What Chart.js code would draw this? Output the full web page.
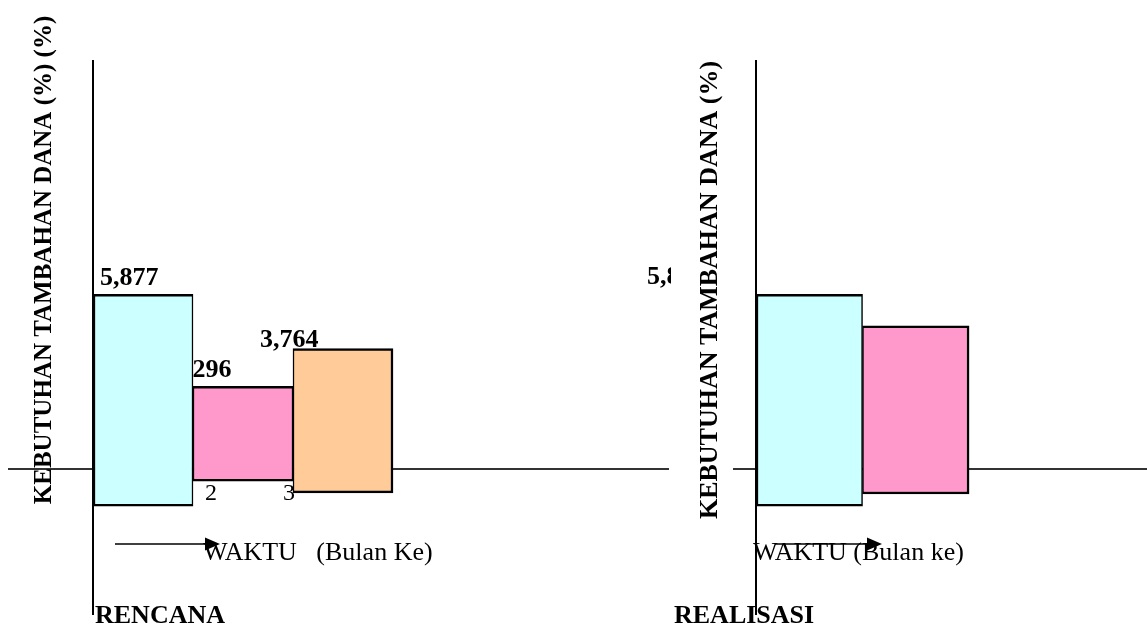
<!DOCTYPE html>
<html>
<head>
<meta charset="utf-8">
<title>Kebutuhan Tambahan Dana</title>
<script src="https://cdn.jsdelivr.net/npm/chart.js@4.4.1/dist/chart.umd.min.js"></script>
<style>
  html, body { margin: 0; padding: 0; background: #ffffff; }
  #wrap { position: relative; width: 1147px; height: 625px; overflow: hidden; }
  #wrap canvas { position: absolute; left: 0; top: 0; }
</style>
</head>
<body>
<div id="wrap">
  <canvas id="rencana" width="1147" height="625"></canvas>
  <canvas id="realisasi" width="1147" height="625"></canvas>
</div>
<script>
// Bulan ke- (months)
const rencanaMonths = [1, 2, 3];
const realisasiMonths = [1, 2];

// Floating bars: upper and lower ends of each month's box
const rencanaTop = [5877, 2296, 3764];
const rencanaBottom = [-2360, -1390, -1850];
const realisasiTop = [5877, 4650];
const realisasiBottom = [-2360, -1890];

// Value labels written above the boxes
const rencanaValueLabels = ['5,877', '2,296', '3,764'];
const realisasiValueLabels = ['5,877'];

// Month numbers written under the base line
const rencanaTickLabels = ['1', '2', '3'];

const monthColors = ['#CCFFFF', '#FF99CC', '#FFCC99'];
const baseLevel = -920;

const SERIF = '"Liberation Serif", "Times New Roman", serif';

// Draws the base line, axis, arrow, captions and titles around the boxes
const panelDecor = {
  id: 'panelDecor',
  beforeDatasetsDraw(chart, args, o) {
    const { ctx, chartArea: a, scales: { y } } = chart;
    const bars = chart.getDatasetMeta(0).data;
    const yb = Math.round(y.getPixelForValue(o.baseLevel));
    ctx.save();
    // base line
    ctx.strokeStyle = '#333333';
    ctx.lineWidth = 2;
    ctx.beginPath();
    ctx.moveTo(a.left - 85, yb);
    ctx.lineTo(a.right, yb);
    ctx.stroke();

    // value labels (sit behind the boxes)
    ctx.fillStyle = '#000000';
    ctx.textAlign = 'left';
    ctx.textBaseline = 'alphabetic';
    ctx.font = 'bold 26px ' + SERIF;
    o.valueLabels.forEach((txt, i) => {
      const b = bars[i];
      const left = b.x - b.width / 2;
      const off = o.valueOffsets[i];
      ctx.fillText(txt, left + off[0], b.y + off[1]);
    });

    // month numbers
    ctx.font = '24px ' + SERIF;
    (o.tickLabels || []).forEach((txt, i) => {
      const b = bars[i];
      const left = b.x - b.width / 2;
      ctx.fillText(txt, left + o.tickOffsets[i], yb + 31);
    });
    ctx.restore();
  },
  afterDatasetsDraw(chart, args, o) {
    const { ctx, chartArea: a } = chart;
    ctx.save();
    // vertical axis
    ctx.strokeStyle = '#000000';
    ctx.lineWidth = 2;
    ctx.beginPath();
    ctx.moveTo(a.left, a.top);
    ctx.lineTo(a.left, a.bottom);
    ctx.stroke();

    // time arrow
    const ay = 544;
    const x1 = a.left + o.arrow[0];
    const x2 = a.left + o.arrow[1];
    ctx.lineWidth = 1.6;
    ctx.beginPath();
    ctx.moveTo(x1, ay);
    ctx.lineTo(x2 - 12, ay);
    ctx.stroke();
    ctx.fillStyle = '#000000';
    ctx.beginPath();
    ctx.moveTo(x2, ay);
    ctx.lineTo(x2 - 15, ay - 6.5);
    ctx.lineTo(x2 - 15, ay + 6.5);
    ctx.closePath();
    ctx.fill();

    // x caption
    ctx.textAlign = 'left';
    ctx.textBaseline = 'alphabetic';
    ctx.font = '26px ' + SERIF;
    ctx.fillText(o.xCaption, a.left + o.xCaptionDx, 560);

    // panel name
    ctx.font = 'bold 26px ' + SERIF;
    ctx.fillText(o.name, a.left + o.nameDx, 623);

    // y title, optionally on a white box
    if (o.titleBox) {
      ctx.fillStyle = '#ffffff';
      ctx.fillRect(a.left - 85, a.top - 10, 62, 480);
    }
    ctx.fillStyle = '#000000';
    ctx.translate(a.left + o.titleDx, o.titleCy);
    ctx.rotate(-Math.PI / 2);
    ctx.textAlign = 'center';
    ctx.textBaseline = 'middle';
    ctx.font = 'bold ' + o.titleSize + 'px ' + SERIF;
    ctx.fillText(o.title, 0, 0);
    ctx.restore();
  }
};

function makePanel(canvasId, months, tops, bottoms, xMax, padding, decor) {
  return new Chart(document.getElementById(canvasId), {
    type: 'bar',
    data: {
      datasets: [{
        data: months.map((m, i) => ({ x: m - 0.5, y: [bottoms[i], tops[i]] })),
        backgroundColor: months.map((m, i) => monthColors[i]),
        borderColor: '#000000',
        borderWidth: (c) => ({
          top: 2.5,
          bottom: 2.5,
          left: c.dataIndex === 0 ? 2.5 : 1.5,
          right: c.dataIndex === months.length - 1 ? 2.5 : 1.5
        }),
        borderSkipped: false,
        categoryPercentage: 1,
        barPercentage: 1
      }]
    },
    options: {
      responsive: false,
      animation: false,
      devicePixelRatio: 1,
      events: [],
      layout: { padding },
      scales: {
        x: {
          type: 'linear',
          display: false,
          offset: false,
          min: 0,
          max: xMax,
          grid: { offset: false },
          ticks: { stepSize: 1, includeBounds: false }
        },
        y: {
          type: 'linear',
          display: false,
          min: -6600,
          max: 15000
        }
      },
      plugins: {
        legend: { display: false },
        tooltip: { enabled: false },
        panelDecor: Object.assign({ baseLevel }, decor)
      }
    },
    plugins: [panelDecor]
  });
}

makePanel('rencana', rencanaMonths, rencanaTop, rencanaBottom, 5.76,
  { left: 93, right: 478, top: 60, bottom: 10 },
  {
    valueLabels: rencanaValueLabels,
    valueOffsets: [[7, -9], [-20, -9], [-33, -2]],
    tickLabels: rencanaTickLabels,
    tickOffsets: [12, 12, -10],
    arrow: [22, 127],
    xCaption: 'WAKTU   (Bulan Ke)',
    xCaptionDx: 110,
    name: 'RENCANA',
    nameDx: 2,
    title: 'KEBUTUHAN TAMBAHAN DANA (%) (%)',
    titleSize: 25,
    titleDx: -48,
    titleCy: 260,
    titleBox: false
  });

makePanel('realisasi', realisasiMonths, realisasiTop, realisasiBottom, 3.67,
  { left: 756, right: 0, top: 60, bottom: 10 },
  {
    valueLabels: realisasiValueLabels,
    valueOffsets: [[-109, -10]],
    arrow: [19, 126],
    xCaption: 'WAKTU (Bulan ke)',
    xCaptionDx: -3,
    name: 'REALISASI',
    nameDx: -82,
    title: 'KEBUTUHAN TAMBAHAN DANA (%)',
    titleSize: 26,
    titleDx: -46,
    titleCy: 290,
    titleBox: true
  });
</script>
</body>
</html>
